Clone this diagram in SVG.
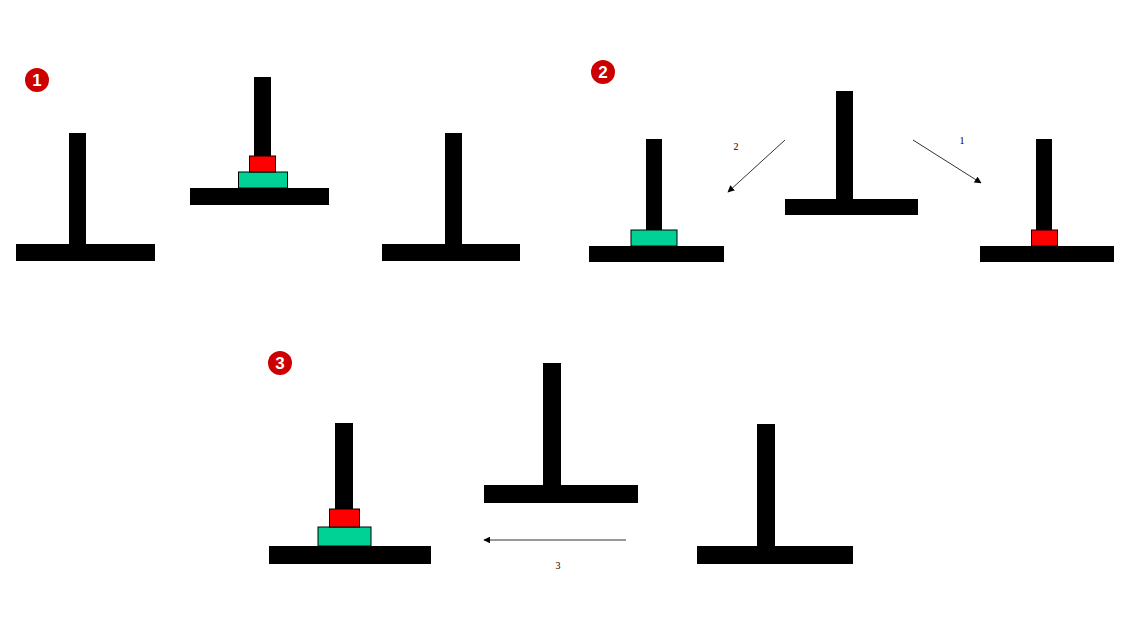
<svg xmlns="http://www.w3.org/2000/svg" width="1139" height="630" viewBox="0 0 1139 630">
<style>
.peg{fill:#000}
.red{fill:#ff0000;stroke:#000;stroke-width:1}
.grn{fill:#00d296;stroke:#000;stroke-width:1}
.badge{fill:#cc0000}
.bt{fill:#fff;font-family:"Liberation Sans",Arial,sans-serif;font-weight:bold;font-size:17px;text-anchor:middle}
.lbl{fill:#000;font-family:"Liberation Serif","Times New Roman",serif;font-size:10px;text-anchor:middle}
.arr{stroke:#333;stroke-width:1;fill:none;marker-end:url(#ah)}
</style>
<defs>
<marker id="ah" viewBox="0 0 10 10" refX="9" refY="5" markerWidth="7" markerHeight="7" orient="auto" markerUnits="userSpaceOnUse">
<path d="M0,0 L10,5 L0,10 z" fill="#000"/>
</marker>
</defs>
<rect width="1139" height="630" fill="#fff"/>
<g id="badge1"><circle class="badge" cx="37" cy="80" r="12"/><text class="bt" x="37" y="86">1</text></g>
<g id="badge2"><circle class="badge" cx="603" cy="72" r="12"/><text class="bt" x="603" y="78">2</text></g>
<g id="badge3"><circle class="badge" cx="280" cy="363" r="12"/><text class="bt" x="280" y="369">3</text></g>

<g id="s1-peg1"><rect class="peg" x="69" y="133" width="17" height="112"/><rect class="peg" x="16" y="244" width="139" height="17"/></g>
<g id="s1-peg2"><rect class="peg" x="254" y="77" width="17" height="80"/><rect class="peg" x="190" y="188" width="139" height="17"/><rect class="grn" x="238.5" y="172" width="49" height="16"/><rect class="red" x="249.5" y="156" width="26" height="16"/></g>
<g id="s1-peg3"><rect class="peg" x="445" y="133" width="17" height="112"/><rect class="peg" x="382" y="244" width="138" height="17"/></g>

<g id="s2-peg1"><rect class="peg" x="646" y="139" width="16" height="92"/><rect class="peg" x="589" y="246" width="135" height="16"/><rect class="grn" x="631" y="230" width="46" height="16"/></g>
<g id="s2-peg2"><rect class="peg" x="836" y="91" width="17" height="109"/><rect class="peg" x="785" y="199" width="133" height="16"/></g>
<g id="s2-peg3"><rect class="peg" x="1036" y="139" width="16" height="92"/><rect class="peg" x="980" y="246" width="134" height="16"/><rect class="red" x="1031.5" y="230" width="26" height="16"/></g>

<g id="s3-peg1"><rect class="peg" x="335" y="423" width="18" height="87"/><rect class="peg" x="269" y="546" width="162" height="18"/><rect class="grn" x="318" y="527" width="53" height="19"/><rect class="red" x="329.5" y="509" width="30" height="18"/></g>
<g id="s3-peg2"><rect class="peg" x="543" y="363" width="18" height="123"/><rect class="peg" x="484" y="485" width="154" height="18"/></g>
<g id="s3-peg3"><rect class="peg" x="757" y="424" width="18" height="123"/><rect class="peg" x="697" y="546" width="156" height="18"/></g>

<g id="connectors">
<line class="arr" x1="785" y1="140" x2="728" y2="192"/>
<text class="lbl" x="736" y="150">2</text>
<line class="arr" x1="913" y1="140" x2="981" y2="183"/>
<text class="lbl" x="962" y="144">1</text>
<line class="arr" x1="626" y1="540" x2="484" y2="540"/>
<text class="lbl" x="558" y="569">3</text>
</g>
</svg>
